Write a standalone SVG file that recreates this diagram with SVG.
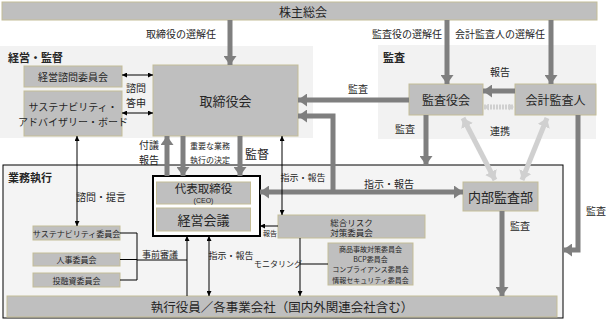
<svg xmlns="http://www.w3.org/2000/svg" width="613" height="328" viewBox="0 0 613 328">
<style>
text{font-family:"Noto Sans CJK JP","Noto Sans",sans-serif;fill:#262626;text-anchor:middle;dominant-baseline:central}
.box{fill:#bfbfbf;stroke:#c4bd97;stroke-width:1}
.sec{fill:#f2f2f2}
.t13{font-size:13px}
.t12{font-size:12px}
.t10{font-size:10px}
.t9{font-size:9px}
.t8{font-size:8px}
.t7{font-size:7px}
.b{font-weight:bold}
.lft{text-anchor:start}
.thick{stroke:#7f7f7f;stroke-width:5;fill:none}
.thin{stroke:#000;stroke-width:1;fill:none}
.light{stroke:#d0d0d0;stroke-width:5;fill:none}
</style>
<defs>
<marker id="ah" markerUnits="userSpaceOnUse" markerWidth="9" markerHeight="13" refX="9" refY="6.5" orient="auto-start-reverse"><path d="M0,0 L9,6.5 L0,13 z" fill="#7f7f7f"/></marker>
<marker id="al" markerUnits="userSpaceOnUse" markerWidth="9" markerHeight="13" refX="9" refY="6.5" orient="auto-start-reverse"><path d="M0,0 L9,6.5 L0,13 z" fill="#d0d0d0"/></marker>
<marker id="als" markerUnits="userSpaceOnUse" markerWidth="5" markerHeight="7" refX="5" refY="3.5" orient="auto-start-reverse"><path d="M0,0 L5,3.5 L0,7 z" fill="#d0d0d0"/></marker>
<marker id="at" markerUnits="userSpaceOnUse" markerWidth="5" markerHeight="5" refX="5" refY="2.5" orient="auto-start-reverse"><path d="M0,0 L5,2.5 L0,5 z" fill="#000"/></marker>
</defs>

<rect class="sec" x="0" y="46" width="313" height="92"/>
<rect class="sec" x="378" y="45" width="218" height="94"/>
<rect x="3" y="165" width="560" height="153" fill="#f4f4f4" stroke="#000" stroke-width="1"/>
<text class="b lft" x="8" y="57" style="font-size:11px">経営・監督</text>
<text class="b lft" x="383" y="57" style="font-size:11px">監査</text>
<text class="b lft" x="8" y="177" style="font-size:11px">業務執行</text>

<g id="shareholders"><rect class="box" x="2" y="2" width="595" height="18"/><text class="t12" x="303" y="11">株主総会</text></g>
<g id="advisory"><rect class="box" x="24" y="66" width="98" height="21"/><text class="t10" x="73" y="76.5">経営諮問委員会</text></g>
<g id="sab"><rect class="box" x="24" y="91" width="98" height="45"/><text class="t10" x="73" y="106">サステナビリティ・</text><text class="t10" x="73" y="121">アドバイザリー・ボード</text></g>
<g id="board"><rect class="box" x="153" y="65" width="145" height="71"/><text class="t13" x="225.5" y="100">取締役会</text></g>
<g id="kansayakukai"><rect class="box" x="409" y="84" width="74" height="31"/><text class="t12" x="446" y="99.5">監査役会</text></g>
<g id="auditor"><rect class="box" x="515" y="84" width="81" height="31"/><text class="t12" x="555.5" y="99.5">会計監査人</text></g>
<g id="ceo-group"><rect x="153" y="176" width="107" height="60" fill="#fff" stroke="#000" stroke-width="2"/>
<g id="ceo"><rect class="box" x="156.5" y="182" width="94" height="22" stroke="#7f7f7f"/><text x="203.5" y="188" style="font-size:11.5px">代表取締役</text><text x="203.5" y="200.5" style="font-size:7px;font-family:'Liberation Sans',sans-serif">(CEO)</text></g>
<g id="keiei"><rect class="box" x="156.5" y="208" width="94" height="23" stroke="#7f7f7f"/><text class="t13" x="203.5" y="219.5">経営会議</text></g></g>
<g id="internal-audit"><rect class="box" x="463" y="182" width="75" height="29"/><text class="t13" x="500.5" y="196.5">内部監査部</text></g>
<g id="sus-com"><rect class="box" x="33" y="226" width="87" height="14"/><text class="t8" x="76.5" y="233">サステナビリティ委員会</text></g>
<g id="hr-com"><rect class="box" x="33" y="253" width="87" height="13"/><text class="t8" x="76.5" y="259.5">人事委員会</text></g>
<g id="inv-com"><rect class="box" x="33" y="273" width="87" height="14"/><text class="t8" x="76.5" y="280">投融資委員会</text></g>
<g id="risk"><rect class="box" x="278" y="215" width="147" height="23"/><text x="351.5" y="221.5" style="font-size:8.5px">総合リスク</text><text x="351.5" y="232" style="font-size:8.5px">対策委員会</text></g>
<g id="sub-coms"><rect class="box" x="328" y="243" width="85" height="42"/><text x="370.5" y="248.8" style="font-size:7px">商品事故対策委員会</text><text x="370.5" y="259.1" style="font-size:7px">BCP委員会</text><text x="370.5" y="269.4" style="font-size:7px">コンプライアンス委員会</text><text x="370.5" y="279.7" style="font-size:7px">情報セキュリティ委員会</text></g>
<g id="exec"><rect class="box" x="7" y="296" width="550" height="21"/><text x="282" y="306.5" style="font-size:12.5px">執行役員／各事業会社（国内外関連会社含む）</text></g>

<g id="connectors">
<path class="thick" d="M230,20 V65" marker-end="url(#ah)"/>
<path class="thick" d="M447,20 V84" marker-end="url(#ah)"/>
<path class="thick" d="M551,20 V84" marker-end="url(#ah)"/>
<path class="thick" d="M515,91 H483" marker-end="url(#ah)"/>
<path class="light" d="M484,107 H514" stroke-width="3" stroke-dasharray="2,1" marker-start="url(#als)" marker-end="url(#als)"/>
<path class="light" d="M463,118 L495,180" stroke-width="4" marker-start="url(#al)" marker-end="url(#al)"/>
<path class="light" d="M547,118 L522,180" stroke-width="4" marker-start="url(#al)" marker-end="url(#al)"/>
<path class="thick" d="M409,100 H298" marker-end="url(#ah)"/>
<path class="thick" d="M426,115 V165" marker-end="url(#ah)"/>
<path class="thick" d="M578,115 V250 H563" marker-end="url(#ah)"/>
<path class="thick" d="M502,211 V296" marker-end="url(#ah)"/>
<path class="thick" d="M333,192 V116 H298" marker-end="url(#ah)"/>
<path class="thick" d="M260,192 H463" marker-start="url(#ah)" marker-end="url(#ah)"/>
<path class="thick" d="M167,176 V136" marker-end="url(#ah)"/>
<path class="thick" d="M183,136 V176" marker-end="url(#ah)"/>
<path class="thick" d="M240,136 V176" marker-end="url(#ah)"/>
<path class="thin" d="M122,75 H153" marker-start="url(#at)" marker-end="url(#at)"/>
<path class="thin" d="M122,113 H153" marker-start="url(#at)" marker-end="url(#at)"/>
<path class="thin" d="M77,136 V226" marker-start="url(#at)" marker-end="url(#at)"/>
<path class="thin" d="M282,136 V215" marker-start="url(#at)" marker-end="url(#at)"/>
<path class="thin" d="M278,226 H260" marker-end="url(#at)"/>
<path class="thin" d="M300,238 V296" marker-end="url(#at)"/>
<path class="thin" d="M300,264 H328"/>
<path class="thin" d="M120,233 H137 V280 H120 M120,259.5 H137 M137,260 H187"/>
<path class="thin" d="M187,296 V236" marker-end="url(#at)"/>
<path class="thin" d="M209,236 V296" marker-start="url(#at)" marker-end="url(#at)"/>
</g>

<g id="labels">
<text class="t10" x="181" y="33">取締役の選解任</text>
<text class="t10" x="407" y="33">監査役の選解任</text>
<text class="t10" x="500" y="33">会計監査人の選解任</text>
<text class="t10" x="500" y="71">報告</text>
<text class="t10" x="500" y="130">連携</text>
<text class="t10" x="358" y="88">監査</text>
<text class="t10" x="405" y="128">監査</text>
<text class="t10" x="596" y="210">監査</text>
<text class="t10" x="520" y="225">監査</text>
<text class="t10" x="136" y="87.5">諮問</text>
<text class="t10" x="136" y="102.5">答申</text>
<text class="t10" x="149" y="144">付議</text>
<text class="t10" x="149" y="159">報告</text>
<text class="t8" x="210" y="145">重要な業務</text>
<text class="t8" x="210" y="159">執行の決定</text>
<text class="t12" x="257" y="153">監督</text>
<text class="t9" x="303" y="177">指示・報告</text>
<text class="t10" x="389" y="183">指示・報告</text>
<text class="t10" x="101" y="196">諮問・提言</text>
<text class="t9" x="160" y="254">事前審議</text>
<text class="t9" x="231" y="255">指示・報告</text>
<text class="t7" x="270" y="233">報告</text>
<text class="t8" x="278" y="263">モニタリング</text>
</g>
</svg>
